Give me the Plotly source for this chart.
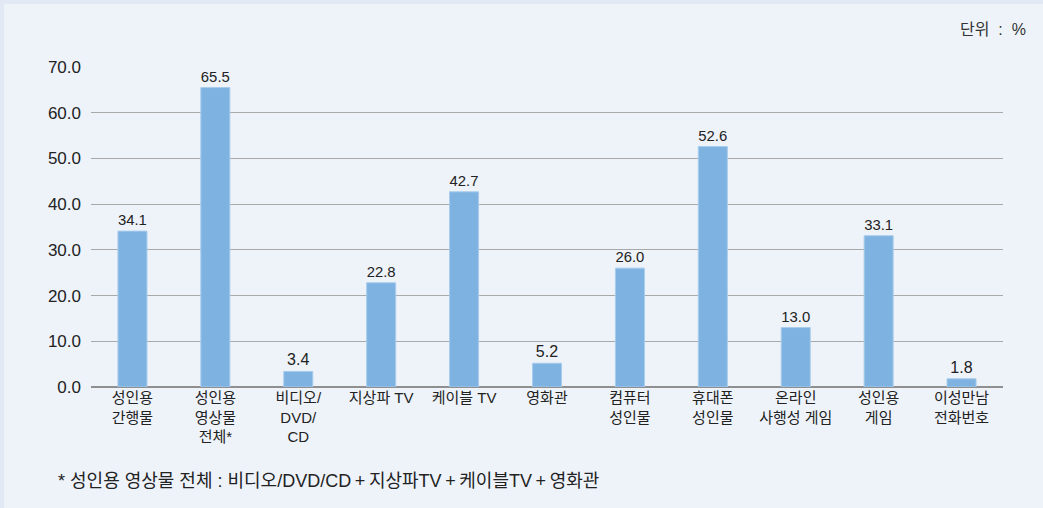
import plotly.graph_objects as go

categories = ["성인용<br>간행물", "성인용<br>영상물<br>전체*", "비디오/<br>DVD/<br>CD", "지상파 TV", "케이블 TV",
              "영화관", "컴퓨터<br>성인물", "휴대폰<br>성인물", "온라인<br>사행성 게임", "성인용<br>게임", "이성만남<br>전화번호"]
values = [34.1, 65.5, 3.4, 22.8, 42.7, 5.2, 26.0, 52.6, 13.0, 33.1, 1.8]
tick_vals = [0, 10, 20, 30, 40, 50, 60, 70]
tick_text = ["0.0", "10.0", "20.0", "30.0", "40.0", "50.0", "60.0", "70.0"]

FONT = "Liberation Sans, Noto Sans CJK KR, sans-serif"
W, H = 1043, 508
L, R, T, B = 91, 40, 67, 121
pw, ph = W - L - R, H - T - B

def px_x(px):
    return (px - L) / pw

def px_y(py):
    return (H - B - py) / ph

fig = go.Figure()
fig.add_trace(go.Bar(
    x=categories, y=values,
    marker=dict(color="#7eb2e0", line=dict(color="#a8ccec", width=1)),
    text=[f"{v:.1f}" for v in values], textposition="outside",
    textfont=dict(size=16, color="#222", family=FONT),
    cliponaxis=False,
))

fig.update_layout(
    width=W, height=H,
    margin=dict(l=L, r=R, t=T, b=B),
    paper_bgcolor="#e2e9f5", plot_bgcolor="rgba(0,0,0,0)",
    bargap=0.65, showlegend=False,
    font=dict(family=FONT, size=15, color="#222"),
    xaxis=dict(showgrid=False, showline=False, ticks="", tickfont=dict(size=15),
               tickangle=0),
    yaxis=dict(range=[0, 70], tickvals=tick_vals, ticktext=tick_text,
               showgrid=True, gridcolor="#a9a9a9", gridwidth=1.2,
               zeroline=True, zerolinecolor="#8f8f8f", zerolinewidth=1.5,
               ticks="", tickfont=dict(size=17), ticklabelstandoff=9),
    shapes=[dict(type="rect", xref="paper", yref="paper", layer="below",
                 x0=px_x(4), x1=px_x(W + 10),
                 y0=px_y(H + 10), y1=px_y(4),
                 fillcolor="#eef3fa", line=dict(width=0))],
    annotations=[
        dict(text="단위\u00a0\u00a0:\u00a0\u00a0%", xref="paper", yref="paper", x=px_x(1028), y=px_y(29),
             xanchor="right", yanchor="middle", showarrow=False, font=dict(size=16, color="#333")),
        dict(text="* 성인용 영상물 전체 : 비디오/DVD/CD\u2009+\u2009지상파TV\u2009+\u2009케이블TV\u2009+\u2009영화관",
             xref="paper", yref="paper",
             x=px_x(56), y=px_y(481), xanchor="left", yanchor="middle",
             showarrow=False, font=dict(size=18, color="#222")),
    ],
)
fig.write_html("out.html", config={"displayModeBar": False},
               post_script="document.body.style.margin='0';document.body.style.padding='0';")
